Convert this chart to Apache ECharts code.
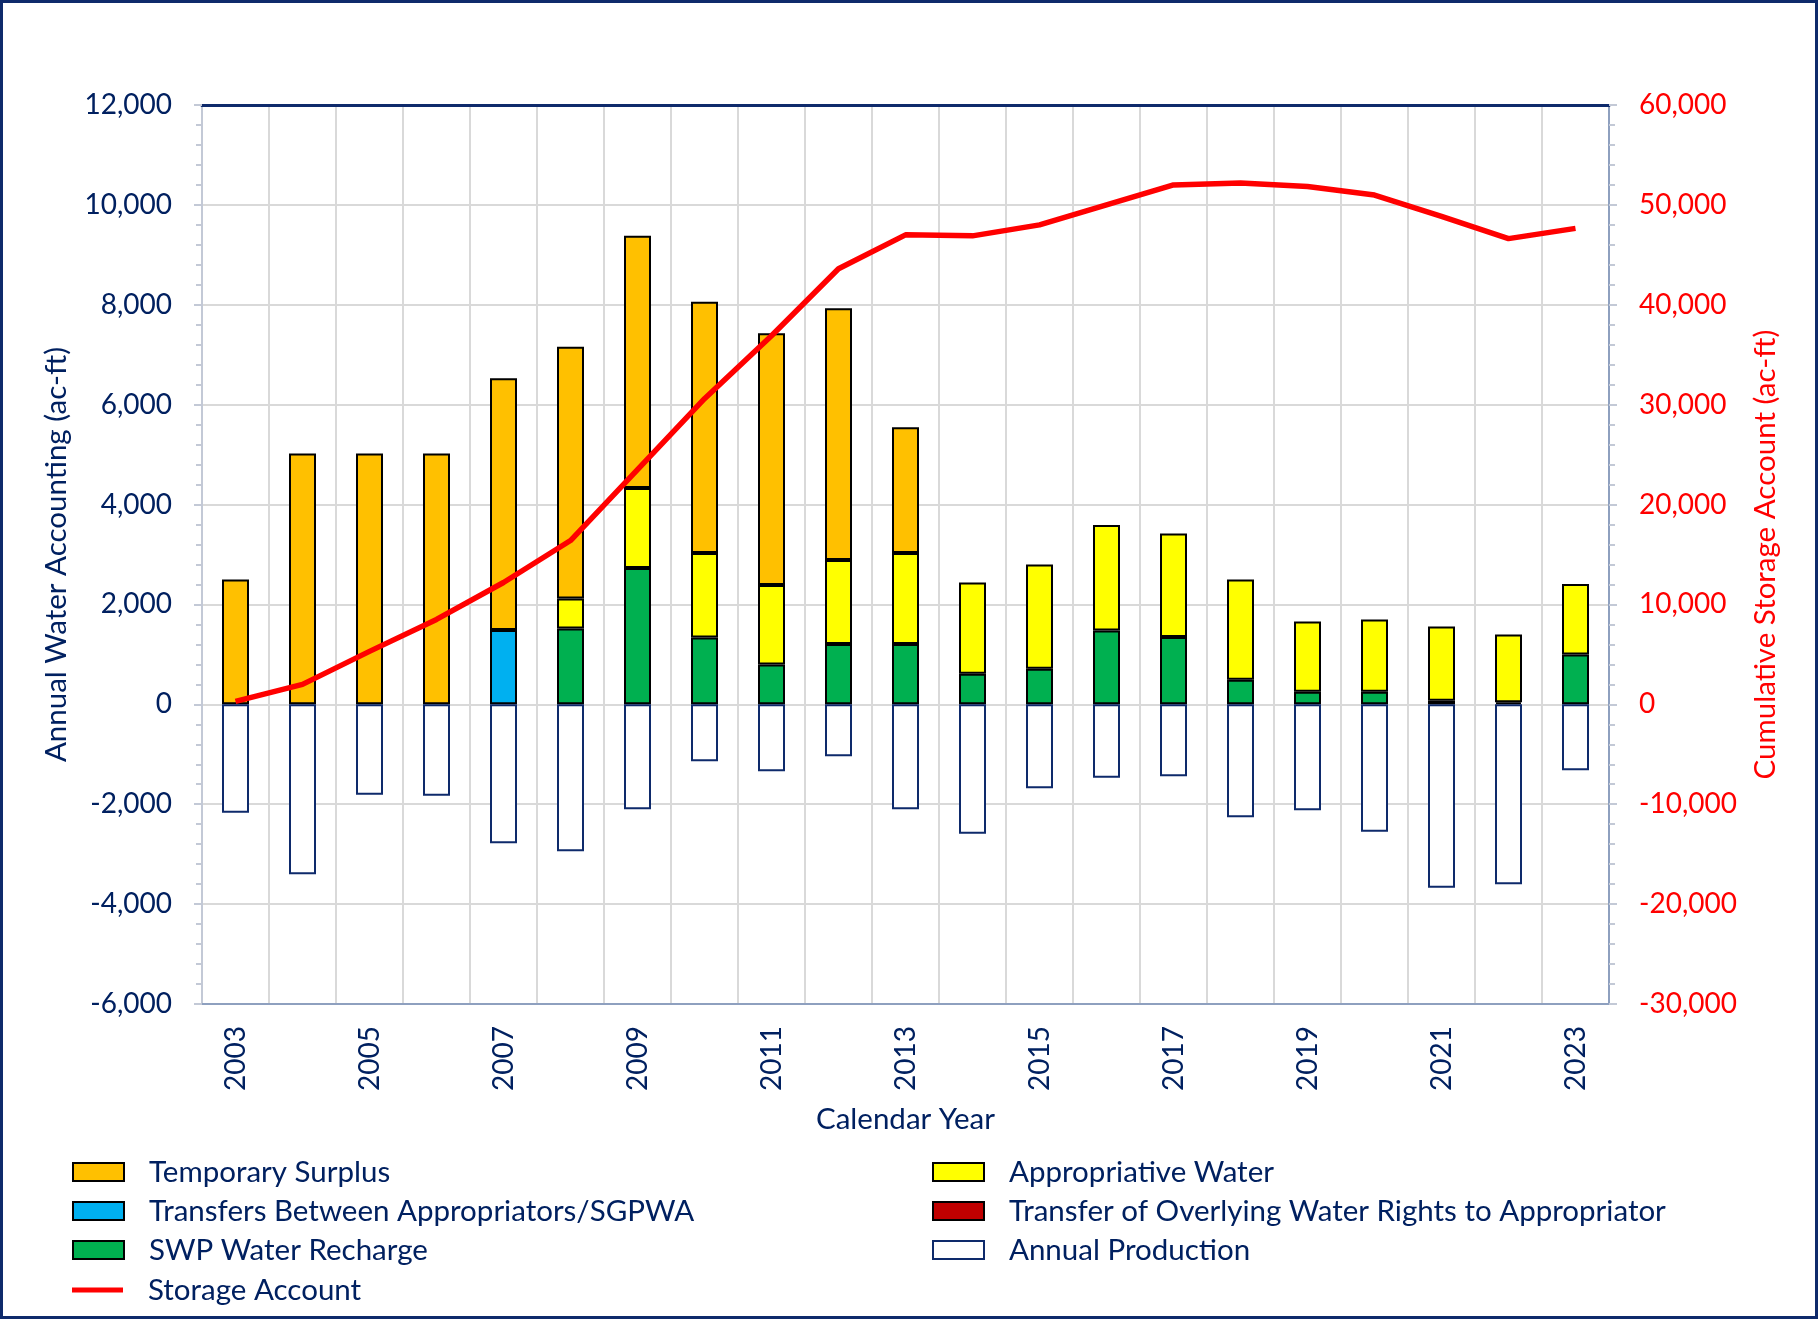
<!DOCTYPE html>
<html>
<head>
<meta charset="utf-8">
<script src="https://cdn.jsdelivr.net/npm/echarts@6.0.0/dist/echarts.min.js"></script>
<style>
  html, body { margin: 0; padding: 0; background: #ffffff; }
  #chart { width: 1818px; height: 1319px; }
</style>
</head>
<body>
<div id="chart"></div>
<script>
// Annual water accounting (stacked bars, left axis) + cumulative storage account (line, right axis).
const years = ['2003', '2004', '2005', '2006', '2007', '2008', '2009', '2010', '2011', '2012', '2013',
  '2014', '2015', '2016', '2017', '2018', '2019', '2020', '2021', '2022', '2023'];

// positive stack, bottom to top
const transfersBetween = [0, 0, 0, 0, 1490, 0, 0, 0, 0, 0, 0, 0, 0, 0, 0, 0, 0, 0, 70, 0, 0];
const swpRecharge = [0, 0, 0, 0, 0, 1520, 2730, 1340, 800, 1210, 1210, 610, 710, 1480, 1350, 490, 250, 250, 0, 0, 1000];
const overlyingTransfer = [0, 0, 0, 0, 0, 0, 0, 0, 0, 0, 0, 0, 0, 0, 0, 0, 0, 0, 0, 40, 0];
const appropriative = [0, 0, 0, 0, 0, 600, 1600, 1690, 1590, 1680, 1820, 1830, 2090, 2110, 2070, 2010, 1410, 1450, 1490, 1360, 1410];
const temporarySurplus = [2500, 5020, 5020, 5020, 5040, 5040, 5050, 5030, 5040, 5040, 2520, 0, 0, 0, 0, 0, 0, 0, 0, 0, 0];
// negative side
const annualProduction = [-2170, -3400, -1810, -1830, -2780, -2940, -2100, -1140, -1340, -1040, -2100,
  -2590, -1680, -1470, -1440, -2260, -2120, -2550, -3670, -3600, -1320];
// right axis
const storageAccount = [300, 2000, 5300, 8500, 12200, 16400, 23500, 30600, 36900, 43600, 47000,
  46900, 48000, 50000, 52000, 52200, 51850, 50980, 48850, 46620, 47650];

const leftTicks = { min: -6000, max: 12000, interval: 2000 };
const rightTicks = { min: -30000, max: 60000, interval: 10000 };

const NAVY = '#002060';
const FONT = 'Lato';
const TITLE_SIZE = 29.5;
const TICK_SIZE = 28;
const fmt = (v) => v.toLocaleString('en-US');
const noZero = (arr) => arr.map((v) => (v === 0 ? null : v));

function barSeries(name, data, color, border) {
  return {
    name, type: 'bar', stack: 'acct', data: noZero(data), barWidth: 27,
    itemStyle: { color, borderColor: border || '#000000', borderWidth: 2 },
    emphasis: { disabled: true },
  };
}

// legend columns mimic the two-column Excel legend; the line entry gets its own thin icon
const legendBase = {
  orient: 'vertical', itemGap: 9, itemWidth: 51, itemHeight: 18, icon: 'rect',
  padding: 0, selectedMode: false,
  textStyle: { color: NAVY, fontSize: TITLE_SIZE, fontFamily: FONT, padding: [0, 0, 0, 20] },
};

const chart = echarts.init(document.getElementById('chart'), null, { renderer: 'canvas' });
chart.setOption({
  backgroundColor: '#ffffff',
  animation: false,
  textStyle: { fontFamily: FONT },
  grid: { left: 202, right: 209, top: 105, bottom: 315, containLabel: false },
  graphic: [{
    type: 'rect', silent: true,
    shape: { x: 1.5, y: 1.5, width: 1815, height: 1316 },
    style: { fill: 'none', stroke: '#0e2a6b', lineWidth: 3 },
  }],
  legend: [
    { ...legendBase, left: 72, top: 1157,
      data: ['Temporary Surplus', 'Transfers Between Appropriators/SGPWA', 'SWP Water Recharge'] },
    { ...legendBase, left: 932, top: 1157,
      data: ['Appropriative Water', 'Transfer of Overlying Water Rights to Appropriator', 'Annual Production'] },
    { ...legendBase, left: 72, top: 1275, itemHeight: 5, data: ['Storage Account'] },
  ],
  xAxis: [
    {
      type: 'category', data: years, position: 'bottom',
      name: 'Calendar Year', nameLocation: 'middle', nameGap: 100,
      nameTextStyle: { color: NAVY, fontSize: TITLE_SIZE, fontFamily: FONT },
      axisLine: { onZero: false, lineStyle: { color: '#8ea0bf', width: 2 } },
      axisTick: { show: false },
      axisLabel: { interval: 1, rotate: 90, margin: 22, color: NAVY, fontSize: TICK_SIZE, fontFamily: FONT },
      splitLine: { show: true, interval: 0, lineStyle: { color: '#d9d9d9', width: 2 } },
    },
    {
      type: 'category', data: years, position: 'top',
      axisLine: { show: true, onZero: false, lineStyle: { color: '#0e2a6b', width: 3 } },
      axisTick: { show: false }, axisLabel: { show: false }, splitLine: { show: false },
    },
  ],
  yAxis: [
    {
      type: 'value', position: 'left', ...leftTicks,
      name: 'Annual Water Accounting (ac-ft)', nameLocation: 'middle', nameRotate: 90, nameGap: 131,
      nameTextStyle: { color: NAVY, fontSize: TITLE_SIZE, fontFamily: FONT },
      axisLine: { show: true, lineStyle: { color: '#c3c9d6', width: 2 } },
      axisTick: { show: true, inside: false, length: 8, lineStyle: { color: '#c3c9d6', width: 2 } },
      minorTick: { show: true, splitNumber: 5, length: 6, lineStyle: { color: '#c3c9d6', width: 2 } },
      axisLabel: { formatter: fmt, margin: 30, color: NAVY, fontSize: TICK_SIZE, fontFamily: FONT },
      splitLine: { show: true, lineStyle: { color: '#d9d9d9', width: 2 } },
    },
    {
      type: 'value', position: 'right', ...rightTicks,
      name: 'Cumulative Storage Account (ac-ft)', nameLocation: 'middle', nameRotate: 90, nameGap: 141,
      nameTextStyle: { color: '#ff0000', fontSize: TITLE_SIZE, fontFamily: FONT },
      axisLine: { show: true, lineStyle: { color: '#8ea0bf', width: 2 } },
      axisTick: { show: true, inside: false, length: 8, lineStyle: { color: '#c3c9d6', width: 2 } },
      minorTick: { show: true, splitNumber: 5, length: 6, lineStyle: { color: '#c3c9d6', width: 2 } },
      axisLabel: { formatter: fmt, margin: 30, color: '#ff0000', fontSize: TICK_SIZE, fontFamily: FONT },
      splitLine: { show: false },
    },
  ],
  series: [
    barSeries('Transfers Between Appropriators/SGPWA', transfersBetween, '#00b0f0'),
    barSeries('SWP Water Recharge', swpRecharge, '#00b050'),
    barSeries('Transfer of Overlying Water Rights to Appropriator', overlyingTransfer, '#c00000'),
    barSeries('Appropriative Water', appropriative, '#ffff00'),
    barSeries('Temporary Surplus', temporarySurplus, '#ffc000'),
    barSeries('Annual Production', annualProduction, '#ffffff', '#0e2a6b'),
    {
      name: 'Storage Account', type: 'line', yAxisIndex: 1, data: storageAccount,
      symbol: 'none', z: 5, color: '#ff0000',
      itemStyle: { color: '#ff0000' },
      lineStyle: { color: '#ff0000', width: 5.5 },
      emphasis: { disabled: true },
    },
  ],
});
</script>
</body>
</html>
